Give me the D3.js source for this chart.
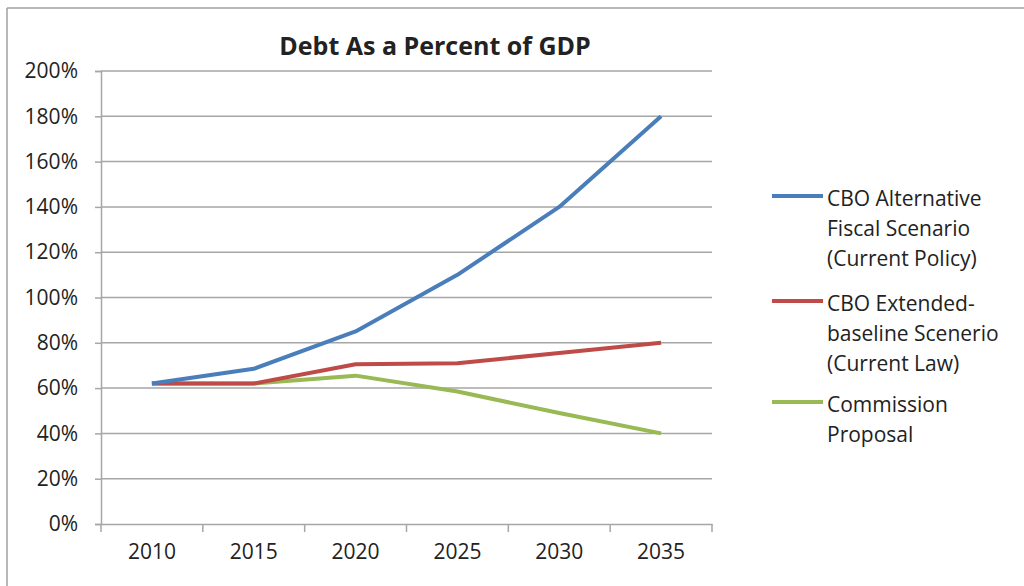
<!DOCTYPE html>
<html>
<head>
  <meta charset="utf-8">
  <script src="https://cdnjs.cloudflare.com/ajax/libs/d3/7.8.5/d3.min.js"></script>
  <title>Debt As a Percent of GDP</title>
  <style>
    body { margin: 0; background: #fff; }
    text { font-family: "Open Sans", sans-serif; fill: #222; }
  </style>
</head>
<body>
<script>
var years = ["2010", "2015", "2020", "2025", "2030", "2035"];
var yTicks = [0, 20, 40, 60, 80, 100, 120, 140, 160, 180, 200];
var altFiscal = [62, 68.5, 85, 110, 140, 180];
var extBaseline = [62, 62, 70.5, 71, 75.5, 80];
var commission = [62, 62, 65.5, 58.5, 49, 40];

var series = [
  {name: ["CBO Alternative", "Fiscal Scenario", "(Current Policy)"], values: altFiscal, color: "#4a7ebb"},
  {name: ["CBO Extended-", "baseline Scenerio", "(Current Law)"], values: extBaseline, color: "#be4b48"},
  {name: ["Commission", "Proposal"], values: commission, color: "#98b954"}
];

var w = 1024, h = 586;
var plotL = 101, plotR = 712, plotT = 71, plotB = 524;

var svg = d3.select("body").append("svg")
  .attr("width", w)
  .attr("height", h);

// chart frame (only top/left edges visible)
svg.append("line").attr("x1", 7).attr("x2", w).attr("y1", 8).attr("y2", 8)
  .attr("stroke", "#a0a0a0").attr("stroke-width", 1.5);
svg.append("line").attr("x1", 7).attr("x2", 7).attr("y1", 8).attr("y2", h)
  .attr("stroke", "#a0a0a0").attr("stroke-width", 1.5);

var x = d3.scaleBand().domain(years).range([plotL, plotR]);
var y = d3.scaleLinear().domain([0, 200]).range([plotB, plotT]);

// horizontal gridlines
svg.append("g").selectAll("line").data(yTicks.slice(1)).enter().append("line")
  .attr("x1", plotL).attr("x2", plotR)
  .attr("y1", function(d) { return y(d); })
  .attr("y2", function(d) { return y(d); })
  .attr("stroke", "#a6a6a6").attr("stroke-width", 1.5);

var yAxis = svg.append("g")
  .attr("transform", "translate(" + plotL + ",0)")
  .call(d3.axisLeft(y).tickValues(yTicks).tickSize(6).tickPadding(17)
    .tickFormat(function(d) { return d + "%"; }));
yAxis.selectAll("text").attr("font-size", 21).style("font-family", "Open Sans");

// x axis with ticks at band boundaries
var xAxis = svg.append("g")
  .attr("transform", "translate(0," + plotB + ")")
  .call(d3.axisBottom(x).tickSize(0).tickPadding(20));
xAxis.selectAll("text").attr("font-size", 21).style("font-family", "Open Sans");
xAxis.append("g").selectAll("line").data(years.concat(["end"])).enter().append("line")
  .attr("x1", function(d, i) { return plotL + i * x.step(); })
  .attr("x2", function(d, i) { return plotL + i * x.step(); })
  .attr("y1", 0).attr("y2", 8)
  .attr("stroke", "#a6a6a6").attr("stroke-width", 1.5);

svg.selectAll(".domain").attr("stroke", "#a6a6a6").attr("stroke-width", 1.5);
svg.selectAll(".tick line").attr("stroke", "#a6a6a6").attr("stroke-width", 1.5);

var line = d3.line()
  .x(function(d, i) { return x(years[i]) + x.bandwidth() / 2; })
  .y(function(d) { return y(d); });

// draw green first so blue on top
series.slice().reverse().forEach(function(s) {
  svg.append("path")
    .attr("d", line(s.values))
    .attr("fill", "none")
    .attr("stroke", s.color)
    .attr("stroke-width", 4)
    .attr("stroke-linejoin", "round");
});

svg.append("text")
  .attr("x", 435).attr("y", 55)
  .attr("text-anchor", "middle")
  .attr("font-size", 25)
  .attr("font-weight", "bold")
  .style("font-family", "Open Sans")
  .text("Debt As a Percent of GDP");

// legend
var legendY = [196, 301, 402];
series.forEach(function(s, i) {
  svg.append("line")
    .attr("x1", 772).attr("x2", 823)
    .attr("y1", legendY[i]).attr("y2", legendY[i])
    .attr("stroke", s.color).attr("stroke-width", 4);
  s.name.forEach(function(t, j) {
    svg.append("text")
      .attr("x", 827).attr("y", legendY[i] + j * 30 + 10)
      .attr("font-size", 21)
      .text(t);
  });
});
</script>
</body>
</html>
